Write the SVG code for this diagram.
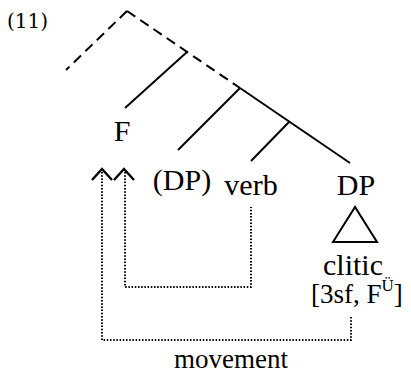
<svg xmlns="http://www.w3.org/2000/svg" width="411" height="375" viewBox="0 0 411 375">
<style>
.t{font-family:"Liberation Serif","Times New Roman",serif;fill:#000;font-size:30px}
.s27{font-size:27px}
.sup{font-size:17px}
.n{font-family:"DejaVu Serif",serif;font-size:20px;fill:#000}
.solid{stroke:#000;stroke-width:2;fill:none}
.dash{stroke:#000;stroke-width:2;fill:none;stroke-dasharray:10 6}
.dot{stroke:#000;stroke-width:2;fill:none;stroke-dasharray:1.5 1.7}
.arr{stroke:#000;stroke-width:2.4;fill:none}
</style>
<rect width="411" height="375" fill="#fff"/>
<text class="n" x="7" y="28">(11)</text>
<g id="connectors">
<path class="dash" d="M127,11 L66,70"/>
<path class="dash" d="M127,11 L240,88"/>
<path class="solid" d="M187,52 L125,108"/>
<path class="solid" d="M240,88 L178,150"/>
<path class="solid" d="M240,88 L350,163"/>
<path class="solid" d="M289,122 L251,161"/>
<path class="dot" d="M102,172 V340 H351 V317"/>
<path class="dot" d="M125,172 V287 H251 V207"/>
<path class="arr" d="M92,180 L102,169 L112,180"/>
<path class="arr" d="M114,180 L124,169 L134,180"/>
</g>
<g id="node-F"><text class="t" x="122" y="141" text-anchor="middle">F</text></g>
<g id="node-DP1"><text class="t" x="182" y="190" text-anchor="middle">(DP)</text></g>
<g id="node-verb"><text class="t" x="251" y="195" text-anchor="middle">verb</text></g>
<g id="node-DP2"><text class="t" x="356" y="195" text-anchor="middle">DP</text></g>
<g id="node-clitic">
<path class="solid" d="M355,207 L333,242 L377,242 Z"/>
<text class="t" x="353" y="275" text-anchor="middle">clitic</text>
<text class="t s27" x="311" y="303">[3sf, F<tspan class="sup" dy="-12">Ü</tspan><tspan class="s27" dy="12">]</tspan></text>
</g>
<g id="label-movement"><text class="t s27" x="231" y="368" text-anchor="middle">movement</text></g>
</svg>
